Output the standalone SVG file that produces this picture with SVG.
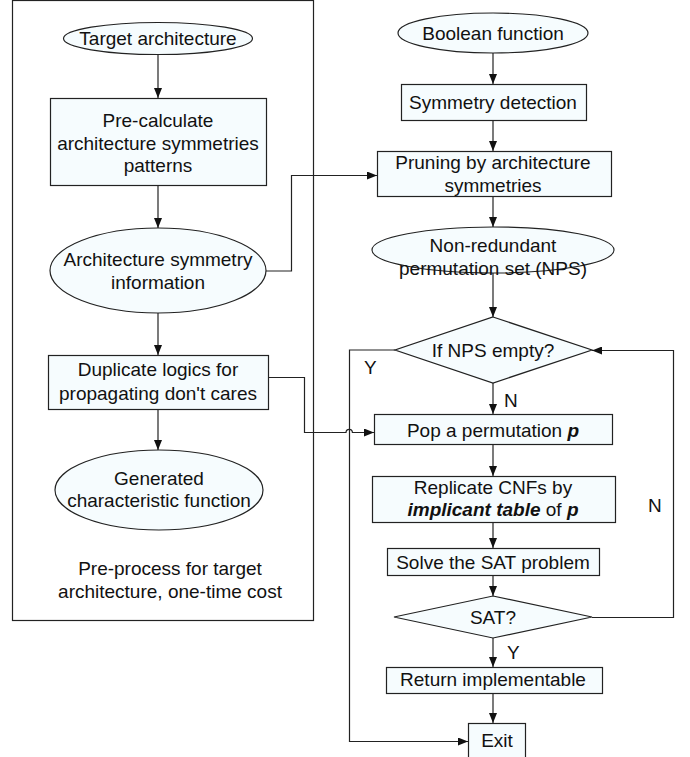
<svg xmlns="http://www.w3.org/2000/svg" width="690" height="757" viewBox="0 0 690 757">
<defs>
<marker id="arr" viewBox="0 0 10 8" refX="10" refY="4" markerWidth="10" markerHeight="8" markerUnits="userSpaceOnUse" orient="auto">
<path d="M0,0 L10,4 L0,8 Z" fill="#111"/>
</marker>
</defs>
<style>
.n{fill:#f6fcfe;stroke:#222;stroke-width:1.2}
.f{fill:none;stroke:#222;stroke-width:1.2}
.c{fill:none;stroke:#222;stroke-width:1.2;marker-end:url(#arr)}
text{font-family:"Liberation Sans",Arial,sans-serif;font-size:19px;fill:#111;text-anchor:middle}
.l{text-anchor:start}
</style>
<rect id="frame" class="f" x="12.5" y="0.5" width="301" height="620"/>
<g id="n1"><ellipse class="n" cx="158" cy="38.5" rx="94.5" ry="16"/><text x="158" y="45">Target architecture</text></g>
<g id="n2"><rect class="n" x="50.5" y="98.5" width="216" height="87"/><text x="158" y="127">Pre-calculate</text><text x="158" y="150">architecture symmetries</text><text x="158" y="172">patterns</text></g>
<g id="n3"><ellipse class="n" cx="158" cy="270.5" rx="108" ry="42.5"/><text x="158" y="266">Architecture symmetry</text><text x="158" y="289">information</text></g>
<g id="n4"><rect class="n" x="48.5" y="355.5" width="220" height="54"/><text x="158" y="376">Duplicate logics for</text><text x="158" y="400">propagating don't cares</text></g>
<g id="n5"><ellipse class="n" cx="159" cy="490" rx="104" ry="40"/><text x="159" y="485">Generated</text><text x="159" y="507">characteristic function</text></g>
<g id="note"><text x="170" y="575">Pre-process for target</text><text x="170" y="598">architecture, one-time cost</text></g>
<g id="r1"><ellipse class="n" cx="493" cy="33" rx="95" ry="20"/><text x="493" y="40">Boolean function</text></g>
<g id="r2"><rect class="n" x="401.5" y="84.5" width="185" height="36"/><text x="493" y="109">Symmetry detection</text></g>
<g id="r3"><rect class="n" x="377.5" y="151.5" width="234" height="45"/><text x="493" y="169">Pruning by architecture</text><text x="493" y="192">symmetries</text></g>
<g id="r4"><ellipse class="n" cx="493" cy="250" rx="121" ry="23"/><text x="493" y="252">Non-redundant</text><text x="493" y="275">permutation set (NPS)</text></g>
<g id="r5"><polygon class="n" points="493,317 592,350 493,383 395,350"/><text x="493" y="357">If NPS empty?</text></g>
<g id="r6"><rect class="n" x="374.5" y="414.5" width="238" height="30"/><text x="493" y="437">Pop a permutation <tspan font-weight="bold" font-style="italic">p</tspan></text></g>
<g id="r7"><rect class="n" x="372.5" y="476.5" width="243" height="46"/><text x="493" y="494">Replicate CNFs by</text><text x="493" y="516"><tspan font-weight="bold" font-style="italic">implicant table</tspan> of <tspan font-weight="bold" font-style="italic">p</tspan></text></g>
<g id="r8"><rect class="n" x="387.5" y="548.5" width="212" height="27"/><text x="493" y="569">Solve the SAT problem</text></g>
<g id="r9"><polygon class="n" points="493,596 592,617 493,638 394,617"/><text x="493" y="624">SAT?</text></g>
<g id="r10"><rect class="n" x="386.5" y="667.5" width="216" height="26"/><text x="493" y="686">Return implementable</text></g>
<g id="r11"><rect class="n" x="468.5" y="723.5" width="57" height="40"/><text x="497" y="747">Exit</text></g>
<g id="connectors">
<line class="c" x1="158" y1="55" x2="158" y2="98"/>
<line class="c" x1="158" y1="186" x2="158" y2="228"/>
<line class="c" x1="158" y1="313" x2="158" y2="355"/>
<line class="c" x1="158" y1="410" x2="158" y2="450"/>
<path class="c" d="M266,271 H291.5 V175.5 H377"/>
<path class="c" d="M268.5,377.5 H304.5 V432.5 H346 A3.2,3.2 0 0 1 352.4,432.5 H374"/>
<line class="c" x1="493" y1="53" x2="493" y2="84"/>
<line class="c" x1="493" y1="121" x2="493" y2="151"/>
<line class="c" x1="493" y1="197" x2="493" y2="227"/>
<line class="c" x1="493" y1="273" x2="493" y2="317"/>
<line class="c" x1="493" y1="383" x2="493" y2="414"/>
<line class="c" x1="493" y1="445" x2="493" y2="476"/>
<line class="c" x1="493" y1="523" x2="493" y2="548"/>
<line class="c" x1="493" y1="576" x2="493" y2="596"/>
<line class="c" x1="493" y1="638" x2="493" y2="667"/>
<line class="c" x1="493" y1="694" x2="493" y2="723"/>
<path class="c" d="M395,350 H349.5 V741.5 H468"/>
<path class="c" d="M592,617.5 H673.5 V350.5 H592"/>
<text class="l" x="364" y="374">Y</text>
<text class="l" x="504" y="407">N</text>
<text class="l" x="648" y="512">N</text>
<text class="l" x="507" y="659">Y</text>
</g>
</svg>
